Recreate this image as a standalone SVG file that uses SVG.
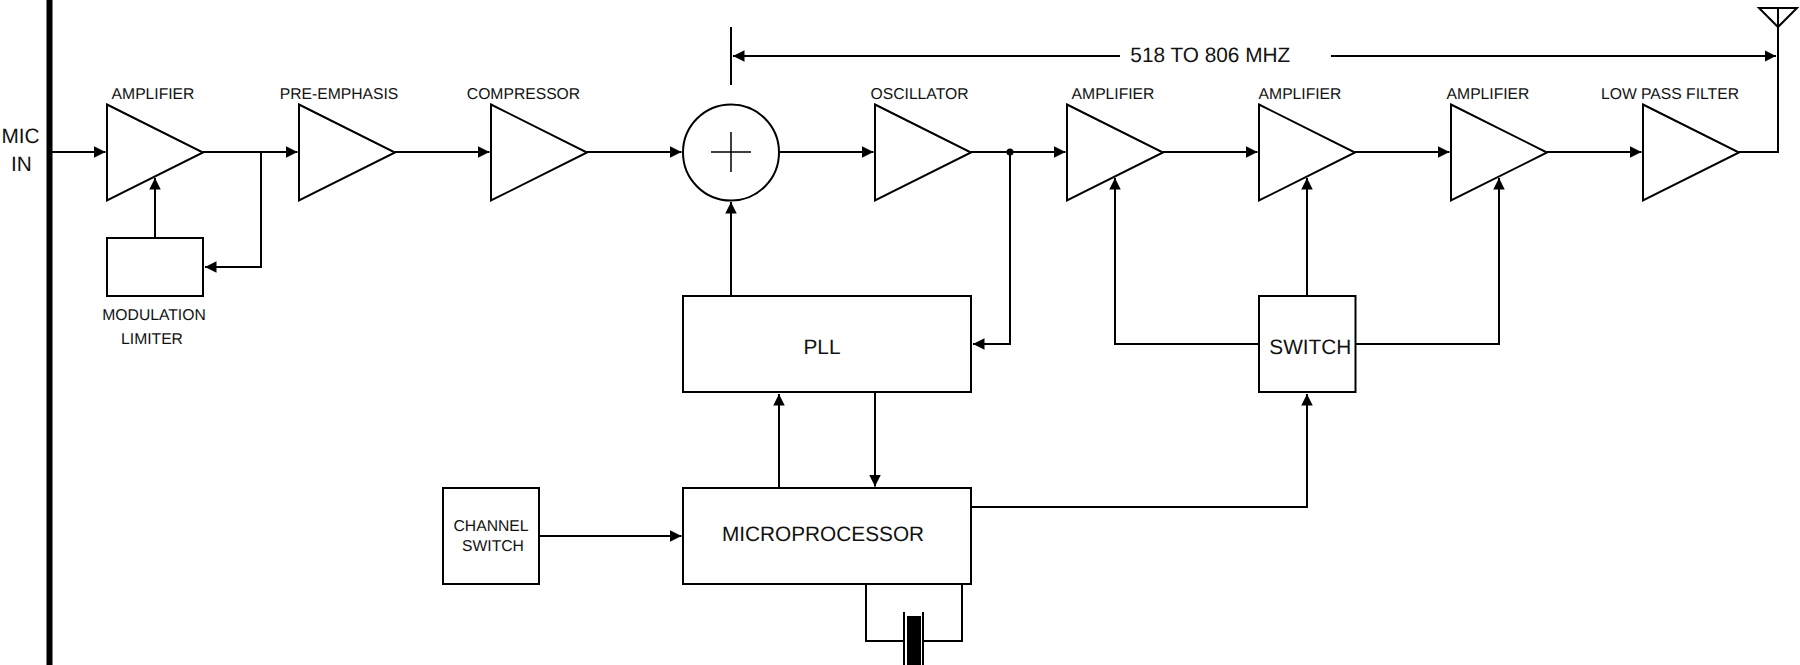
<svg xmlns="http://www.w3.org/2000/svg" width="1800" height="665" viewBox="0 0 1800 665">
<style>
text{font-family:"Liberation Sans",Arial,sans-serif;fill:#111;text-anchor:middle;text-rendering:geometricPrecision}
.s{font-size:15.7px}
.m{font-size:20.8px}
.n{fill:#fff;stroke:#000;stroke-width:2}
.w{fill:none;stroke:#000;stroke-width:2}
.a{marker-end:url(#arr)}
</style>
<defs>
<marker id="arr" markerUnits="userSpaceOnUse" markerWidth="13" markerHeight="13" refX="11.5" refY="6" orient="auto"><path d="M0,0.25L11.5,6L0,11.75z" fill="#000"/></marker>
<polygon id="tri" points="0,-48 96,0 0,48" class="n"/>
</defs>
<rect width="1800" height="665" fill="#fff"/>
<g id="connectors">
<path class="w a" d="M52,152H105.500"/>
<path class="w a" d="M203,152H297.500"/>
<path class="w a" d="M261,152V267H205"/>
<path class="w a" d="M155,238V178"/>
<path class="w a" d="M395,152H489.500"/>
<path class="w a" d="M587,152H681.500"/>
<path class="w a" d="M779,152H873.500"/>
<path class="w a" d="M971,152H1065.500"/>
<path class="w a" d="M1163,152H1257.500"/>
<path class="w a" d="M1355,152H1449.500"/>
<path class="w a" d="M1547,152H1641.500"/>
<path class="w" d="M1739,152H1778V8"/>
<path class="w a" d="M1010,152V344H973"/>
<path class="w a" d="M731,296V202"/>
<path class="w a" d="M779,488V394"/>
<path class="w a" d="M875,392V486.500"/>
<path class="w a" d="M539,536H681.500"/>
<path class="w a" d="M971,507H1307V394"/>
<path class="w a" d="M1307,296V178"/>
<path class="w a" d="M1259,344H1115V178"/>
<path class="w a" d="M1355,344H1499V178"/>
<path class="w" d="M866,584V641H904M923,641H962V584"/>
<path class="w" d="M731,27V85"/>
<path class="w a" d="M1120,56H733"/>
<path class="w a" d="M1331,56H1776"/>
</g>
<g id="mic-bar"><rect x="46.500" y="0" width="6" height="665" fill="#000"/><text class="m" x="20.500" y="143">MIC</text><text class="m" x="21.500" y="171">IN</text></g>
<g id="amp1"><use href="#tri" x="107" y="152.500"/><text class="s" x="153" y="99">AMPLIFIER</text></g>
<g id="pre"><use href="#tri" x="299" y="152.500"/><text class="s" x="339" y="99">PRE-EMPHASIS</text></g>
<g id="comp"><use href="#tri" x="491" y="152.500"/><text class="s" x="523.500" y="99">COMPRESSOR</text></g>
<g id="mod"><rect class="n" x="107" y="238" width="96" height="58"/><text class="s" x="154" y="320">MODULATION</text><text class="s" x="152" y="344">LIMITER</text></g>
<g id="sum"><circle class="n" cx="731" cy="152.500" r="48"/><path class="w" style="stroke-width:1.5" d="M711,152H751M731,132V172"/></g>
<g id="osc"><use href="#tri" x="875" y="152.500"/><text class="s" x="919.500" y="99">OSCILLATOR</text><circle cx="1010" cy="152" r="3.500" fill="#000"/></g>
<g id="amp2"><use href="#tri" x="1067" y="152.500"/><text class="s" x="1113" y="99">AMPLIFIER</text></g>
<g id="amp3"><use href="#tri" x="1259" y="152.500"/><text class="s" x="1300" y="99">AMPLIFIER</text></g>
<g id="amp4"><use href="#tri" x="1451" y="152.500"/><text class="s" x="1488" y="99">AMPLIFIER</text></g>
<g id="lpf"><use href="#tri" x="1643" y="152.500"/><text class="s" x="1670" y="99">LOW PASS FILTER</text></g>
<g id="antenna"><path class="w" d="M1759,8H1797L1778,27Z"/></g>
<g id="pll"><rect class="n" x="683" y="296" width="288" height="96"/><text class="m" x="822" y="354">PLL</text></g>
<g id="switch"><rect class="n" x="1259" y="296" width="96.500" height="96"/><text class="m" x="1310.300" y="353.500">SWITCH</text></g>
<g id="micro"><rect class="n" x="683" y="488" width="288" height="96"/><text class="m" x="823" y="541">MICROPROCESSOR</text></g>
<g id="chan"><rect class="n" x="443" y="488" width="96" height="96"/><text class="s" x="491" y="531">CHANNEL</text><text class="s" x="493" y="551">SWITCH</text></g>
<g id="crystal"><rect x="907" y="616" width="14" height="49" fill="#000"/><path class="w" d="M904,612V665M923,612V665"/></g>
<g id="range"><text class="m" x="1210.300" y="61.700">518 TO 806 MHZ</text></g>
</svg>
